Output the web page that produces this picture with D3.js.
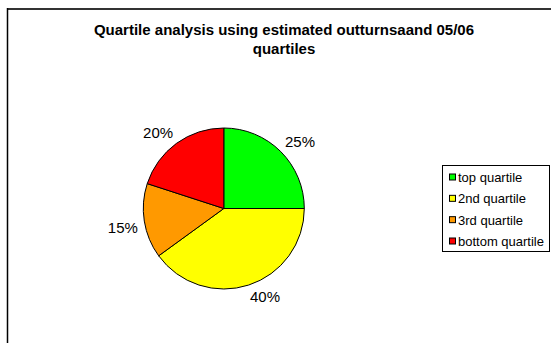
<!DOCTYPE html>
<html><head><meta charset="utf-8">
<script src="https://cdn.jsdelivr.net/npm/d3@7"></script>
<style>body{margin:0;background:#fff}svg{display:block}</style>
</head><body>
<svg id="c" width="551" height="343"></svg>
<script>
const titleLines = ["Quartile analysis using estimated outturnsaand 05/06", "quartiles"];
const categories = ["top quartile", "2nd quartile", "3rd quartile", "bottom quartile"];
const values = [25, 40, 15, 20];
const colors = ["#00FF00", "#FFFF00", "#FF9900", "#FF0000"];

const svg = d3.select("#c");
const font = "Liberation Sans, Arial, sans-serif";

// frame
svg.append("line").attr("x1", 7).attr("x2", 551).attr("y1", 9).attr("y2", 9)
  .attr("stroke", "#333").attr("stroke-width", 2);
svg.append("line").attr("x1", 7.5).attr("x2", 7.5).attr("y1", 8).attr("y2", 343)
  .attr("stroke", "#000").attr("stroke-width", 1.5);

// title
svg.append("g").selectAll("text").data(titleLines).join("text")
  .attr("x", 284).attr("y", (d, i) => 35 + i * 19)
  .attr("text-anchor", "middle").attr("font-family", font)
  .attr("font-weight", "bold").attr("font-size", 15).text(d => d);

// pie
const cx = 223.8, cy = 208.5, r = 80.5;
const pie = d3.pie().sort(null).value(d => d)(values);
const arc = d3.arc().innerRadius(0).outerRadius(r);
const anchorArc = d3.arc().innerRadius(88).outerRadius(88);
const g = svg.append("g").attr("transform", `translate(${cx},${cy})`);
g.selectAll("path").data(pie).join("path")
  .attr("d", arc).attr("fill", (d, i) => colors[i])
  .attr("stroke", "#000").attr("stroke-width", 1);
const halfW = 14, halfH = 5;
g.selectAll("text").data(pie).join("text")
  .attr("transform", d => {
    const [ax, ay] = anchorArc.centroid(d);
    const ox = ax >= 0 ? halfW : -halfW;
    const oy = ay >= 0 ? halfH : -halfH;
    return `translate(${ax + ox},${ay + oy})`;
  })
  .attr("text-anchor", "middle").attr("dy", "0.35em")
  .attr("font-family", font).attr("font-size", 15)
  .text(d => d.data + "%");

// legend
const lg = svg.append("g");
lg.append("rect").attr("x", 442.5).attr("y", 165.5).attr("width", 107).attr("height", 86)
  .attr("fill", "#fff").attr("stroke", "#000").attr("stroke-width", 1);
const ly = d3.scaleLinear().domain([0, 3]).range([177.5, 241.5]);
const items = lg.selectAll("g.item").data(categories).join("g").attr("class", "item")
  .attr("transform", (d, i) => `translate(0,${ly(i)})`);
items.append("rect").attr("x", 449.5).attr("y", -3.5).attr("width", 6).attr("height", 6)
  .attr("fill", (d, i) => colors[i]).attr("stroke", "#000").attr("stroke-width", 1);
items.append("text").attr("x", 458).attr("dy", "0.35em")
  .attr("font-family", font).attr("font-size", 13).text(d => d);
</script>
</body></html>
